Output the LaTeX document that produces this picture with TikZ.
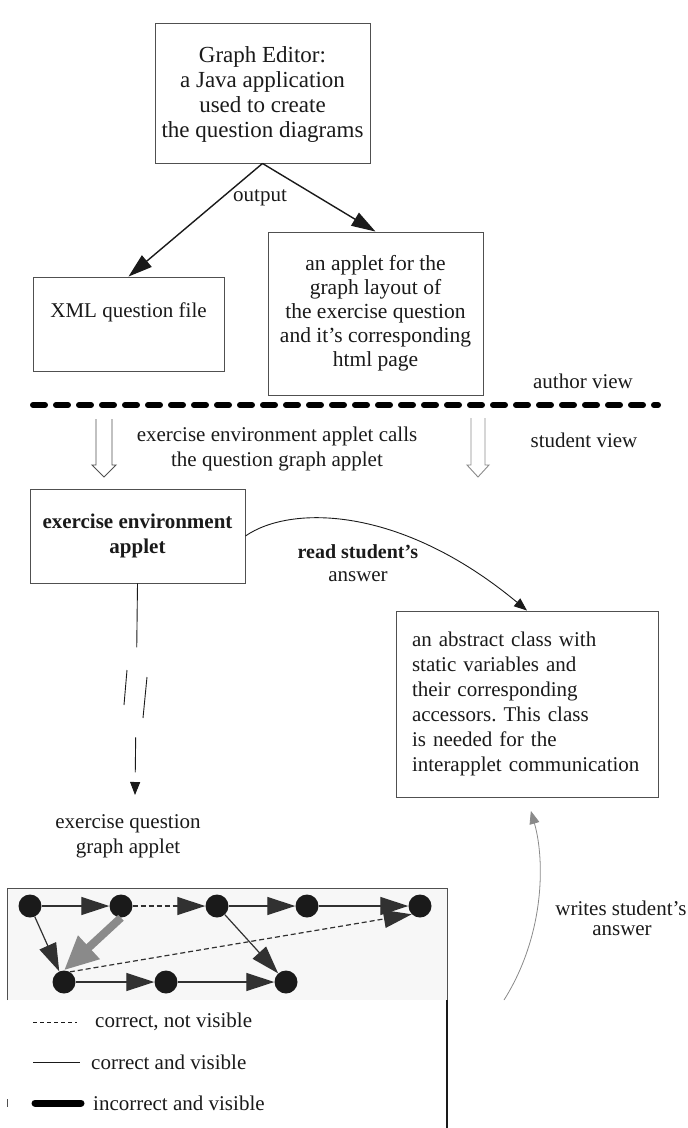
\documentclass[tikz,border=0pt]{standalone}
\usepackage{fontspec}
\setmainfont{Liberation Serif}
\usetikzlibrary{arrows.meta}
\definecolor{ink}{HTML}{1A1A1A}
\definecolor{frame}{HTML}{505050}
\definecolor{soft}{HTML}{8A8A8A}
\frenchspacing
\begin{document}
\begin{tikzpicture}[x=1pt,y=-1pt,
  every node/.style={font=\fontsize{21}{25}\selectfont, text=ink},
  box/.style={draw=frame, line width=0.9pt, inner sep=0pt},
  lbl/.style={inner sep=0pt, align=center},
  flow/.style={draw=ink, line width=1.4pt, -{Triangle[length=24pt,width=15pt]}},
  thin flow/.style={draw=ink, line width=0.9pt, -{Triangle[length=13pt,width=10pt]}},
  vtx/.style={circle, fill=ink, minimum size=23pt, inner sep=0pt},
  edge/.style={draw=ink!90, line width=1.2pt, -{Triangle[length=28pt,width=18pt]}},
  hidden edge/.style={edge, dash pattern=on 5pt off 3pt},
  wrong edge/.style={draw=soft, line width=8pt, -{Triangle[length=34pt,width=30pt]}},
  hollow/.style={line width=0.9pt, line join=miter}
]
\useasboundingbox (0,0) rectangle (688,1128);

% ---------- author side ----------
\node[box, minimum width=215pt, minimum height=140pt] (ge) at (262.5,93) {};
\node[lbl, font=\fontsize{23}{25}\selectfont] at (262.5,94.5)
  {Graph Editor:\\a Java application\\used to create\\the question diagrams};

\node[box, minimum width=191pt, minimum height=94pt] (xml) at (128.5,324) {};
\node[lbl] (xmltext) at (128.5,312) {XML question file};

\node[box, minimum width=215pt, minimum height=163pt, lbl,
      font=\fontsize{21.5}{24}\selectfont] (app) at (375.5,313.5)
  {an applet for the\\graph layout of\\the exercise question\\and it's corresponding\\html page};

\draw[flow] (ge.south) -- (xml.north);
\draw[flow] (ge.south) -- (app.north);
\node[lbl] (out) at (260,198) {output};

% ---------- separator between the two views ----------
\coordinate (sepL) at (33,405);
\coordinate (sepR) at (658,405);
\draw[line width=6pt, line cap=round, dash pattern=on 12pt off 11pt] (sepL) -- (sepR);
\node[lbl] (author) at (583,381) {author view};
\node[lbl] (student) at (584,440) {student view};

% hollow double arrows crossing the separator
\draw[hollow, draw=frame] (96,419) -- (96,465) -- (92,465) -- (104,477) -- (116,465) -- (112,465) -- (112,419);
\draw[hollow, draw=soft] (471,418) -- (471,465) -- (467,465) -- (478,477) -- (489,465) -- (485,465) -- (485,418);
\node[lbl] (calls) at (277,449) {exercise environment applet calls\\the question graph applet};

% ---------- student side ----------
\node[box, minimum width=215pt, minimum height=94pt, lbl, font=\fontsize{21}{25}\selectfont\bfseries]
  (env) at (137.5,536) {exercise environment\\applet};

\node[box, minimum width=262pt, minimum height=186pt, inner xsep=16pt, align=left,
      text width=230pt] (abs) at (527,704)
  {an abstract class with\\static variables and\\their corresponding\\accessors. This class\\is needed for the\\interapplet communication};

\draw[thin flow] (env.east) .. controls (290,505) and (400,505) .. (abs.north);
\node[lbl, font=\fontsize{20}{25}\selectfont\bfseries] (read) at (358,552) {read student's};
\node[lbl] (readans) at (358,577) {answer};

% call of the question applet
\coordinate (qtip) at (135,795);
\draw[thin flow, dash pattern=on 64pt off 90pt on 35pt off 20pt] (env.south) -- (qtip);
\draw[draw=ink, line width=0.9pt] (127,670) -- (124,705);
\draw[draw=ink, line width=0.9pt] (147,677) -- (143,718);
\node[lbl] (qlabel) at (128,836) {exercise question\\graph applet};

% answer written back
\coordinate (w0) at (504,1000);
\draw[draw=soft, line width=0.8pt, -{Triangle[length=13pt,width=10pt]}, shorten >=14pt]
  (w0) .. controls (545,935) and (545,860) .. (abs.south);
\node[lbl] (writes) at (621,908) {writes student's};
\node[lbl] (writesans) at (622,931) {answer};

% ---------- sample question graph ----------
\fill[gray!6] (7,888) rectangle (447,1000);
\draw[draw=frame, line width=0.8pt] (7,1000) -- (7,888) -- (447,888) -- (447,1000);

\node[vtx] (a1) at (30,906) {};
\node[vtx] (a2) at (121,906) {};
\node[vtx] (a3) at (217,906) {};
\node[vtx] (a4) at (307,906) {};
\node[vtx] (a5) at (420,906) {};
\node[vtx] (b1) at (64,982) {};
\node[vtx] (b2) at (166,982) {};
\node[vtx] (b3) at (286,982) {};

\draw[edge] (a1) -- (a2);
\draw[hidden edge] (a2) -- (a3);
\draw[edge] (a3) -- (a4);
\draw[edge] (a4) -- (a5);
\draw[edge] (a1) -- (b1);
\draw[edge] (a3) -- (b3);
\draw[edge] (b1) -- (b2);
\draw[edge] (b2) -- (b3);
\draw[hidden edge] (b1.60) -- (a5.south west);
\draw[wrong edge] (a2.south) -- (b1.north);

% ---------- legend ----------
\draw[draw=ink, line width=2pt] (447,1000) -- (447,1128);
\draw[draw=frame, line width=0.6pt] (7,1099) -- (7,1107);

\coordinate (l1a) at (33,1022); \coordinate (l1b) at (77,1022);
\draw[draw=ink, line width=1pt, dash pattern=on 4pt off 3pt] (l1a) -- (l1b);
\node[inner sep=0pt, anchor=west] (l1) at (95,1022) {correct, not visible};

\coordinate (l2a) at (33,1062); \coordinate (l2b) at (80,1062);
\draw[draw=ink, line width=1pt] (l2a) -- (l2b);
\node[inner sep=0pt, anchor=west] (l2) at (91,1062) {correct and visible};

\coordinate (l3a) at (35,1103); \coordinate (l3b) at (81,1103);
\draw[draw=black, line width=7pt, line cap=round] (l3a) -- (l3b);
\node[inner sep=0pt, anchor=west] (l3) at (93,1103) {incorrect and visible};
\end{tikzpicture}
\end{document}
